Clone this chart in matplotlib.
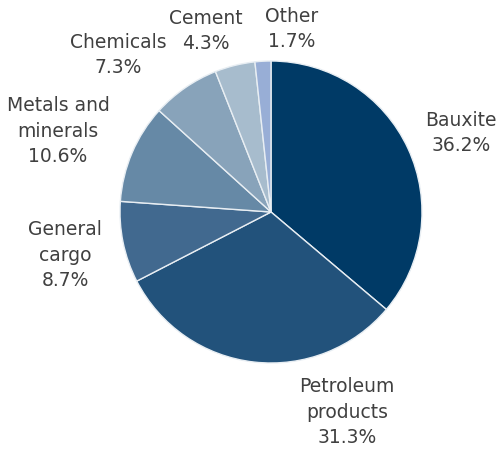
import matplotlib
matplotlib.use("Agg")
import matplotlib.pyplot as plt

categories = ["Bauxite", "Petroleum\nproducts", "General\ncargo", "Metals and\nminerals",
              "Chemicals", "Cement", "Other"]
shares = [36.2, 31.3, 8.7, 10.6, 7.3, 4.3, 1.7]
colors = ["#003A66", "#22527B", "#41698F", "#6689A6", "#88A3BA", "#A7BCCD", "#98AED6"]
# label anchor offsets in pie-radius units
label_pos = [(1.258, 0.523), (0.503, -1.325), (-1.364, -0.285), (-1.411, 0.536),
             (-1.013, 1.040), (-0.430, 1.199), (0.139, 1.212)]

fig = plt.figure(figsize=(5, 4.5), dpi=100)
ax = fig.add_axes([0, 0, 1, 1])
ax.pie(shares, colors=colors, startangle=90, counterclock=False, radius=1.0,
       wedgeprops=dict(edgecolor="#E8EEF3", linewidth=1.0))
for cat, val, (x, y) in zip(categories, shares, label_pos):
    ax.text(x, y, f"{cat}\n{val:.1f}%", ha="center", va="center", fontsize=13.5,
            color="#404040", linespacing=1.45, family="DejaVu Sans")
ax.set_xlim(-271 / 151, (500 - 271) / 151)
ax.set_ylim((212 - 450) / 151, 212 / 151)
ax.set_aspect("equal")
ax.axis("off")
fig.savefig("out.png", dpi=100)
